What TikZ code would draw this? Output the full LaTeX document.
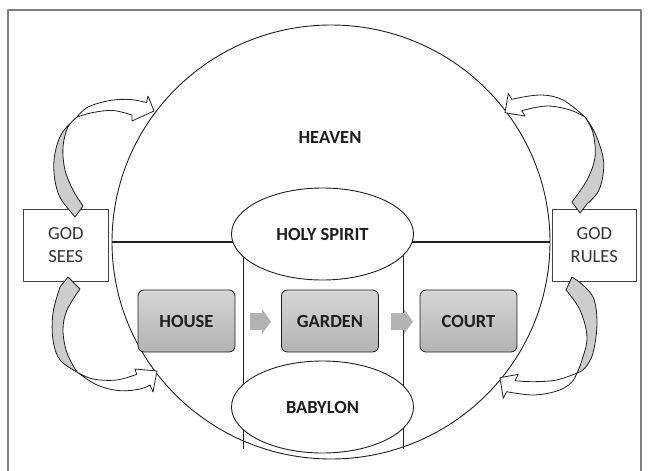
\documentclass[tikz,border=0pt]{standalone}
\usepackage{fontspec}
\setmainfont{Carlito}
\usetikzlibrary{shapes.geometric,calc}
\definecolor{ink}{HTML}{1E1E1E}
\definecolor{bandgray}{HTML}{CDCDCD}
\definecolor{flowgray}{HTML}{B3B3B3}
\begin{document}
\begin{tikzpicture}[x=1pt,y=-1pt,line join=round,
  frame/.style={draw=black!50,line width=1.2pt},
  bigell/.style={draw=ink,line width=0.9pt,ellipse,minimum width=438pt,minimum height=434pt,inner sep=0pt},
  ovl/.style={draw=ink,fill=white,line width=0.9pt,ellipse,minimum width=182pt,minimum height=92pt,inner sep=0pt,font=\fontsize{18.5}{20}\selectfont\bfseries,text=ink},
  lbl/.style={font=\fontsize{18.5}{20}\selectfont\bfseries,text=ink,inner sep=0pt},
  stage/.style={draw=ink,line width=0.8pt,rounded corners=6pt,top color=black!16,bottom color=black!30,minimum width=97pt,minimum height=62pt,inner sep=0pt,font=\fontsize{18.5}{20}\selectfont\bfseries,text=ink},
  godbox/.style={draw=black!75,line width=0.8pt,fill=white,minimum width=84.5pt,minimum height=72pt,inner sep=0pt,align=center,font=\fontsize{18.5}{23}\selectfont,text=black!80},
  divider/.style={draw=ink,line width=1.3pt},
  pillar/.style={draw=ink,line width=1pt},
  gband/.style={draw=ink,fill=bandgray,line width=0.8pt},
  wband/.style={draw=ink,fill=white,line width=0.8pt},
  flow/.style={fill=flowgray},
  sm/.style={smooth,tension=0.6}]
\useasboundingbox (0,0) rectangle (648,471);
% frame
\coordinate (fbl) at (8,471);
\coordinate (ftr) at (641,10);
\draw[frame] (fbl) |- (ftr) -- (ftr |- fbl);
% big ellipse
\node[bigell] (big) at (331,242) {};
\node[lbl] (heaven) at (330,137) {HEAVEN};
% dividing lines
\coordinate (vl1) at (243,449);
\coordinate (vl2) at (403,449);
\draw[divider] (big.west) -- (big.east);
\draw[pillar] (vl1 |- 0,234) -- (vl1);
\draw[pillar] (vl2 |- 0,234) -- (vl2);
% ovals
\node[ovl] (hs) at (322.5,234) {HOLY SPIRIT};
\node[ovl] (bab) at (322.5,407) {BABYLON};
% stages
\node[stage] (house) at (186.5,321) {HOUSE};
\node[stage] (garden) at (330,321) {GARDEN};
\node[stage] (court) at (468.5,321) {COURT};
\fill[flow] (250,313) -- (262,313) -- (262,309) -- (271,321.5) -- (262,334) -- (262,330) -- (250,330) -- cycle;
\fill[flow] (391,313) -- (404,313) -- (404,309) -- (413,321.5) -- (404,334) -- (404,330) -- (391,330) -- cycle;
% god boxes
\node[godbox] (sees) at (65.75,245) {GOD\\SEES};
\node[godbox] (rules) at (594.25,245) {GOD\\RULES};
% curved arrows: left top
\filldraw[gband] plot[sm] coordinates {(77,117) (62,133) (55,153) (54,173) (58,193) (65,205)} -- (75,217) -- (83,206) -- plot[sm] coordinates {(83,206) (73,190) (65,170) (63,147) (68,127) (77,117)} -- cycle;
\filldraw[wband] plot[sm] coordinates {(77,117) (88,107) (110,100.5) (130,99.5) (146.5,102.5)} -- (148,96) -- (154,111) -- (132,121) -- (132,115) -- plot[sm] coordinates {(132,115) (113,110.5) (93,112.5) (77,117)} -- cycle;
% left bottom
\filldraw[gband] plot[sm] coordinates {(77,372) (60,360) (53,340) (53,313) (60,287)} -- (68,277) -- (80,289) -- plot[sm] coordinates {(80,289) (67,310) (63,330) (67,353) (77,372)} -- cycle;
\filldraw[wband] plot[sm] coordinates {(77,372) (97,385) (120,390.7) (140,389) (150,385)} -- (153,392) -- (157,371) -- (135,369) -- (136.7,374.3) -- plot[sm] coordinates {(136.7,374.3) (116.7,380) (93,379) (77,372)} -- cycle;
% right top
\filldraw[gband] plot[sm] coordinates {(585,117) (595,133) (603,157) (603,175) (598,192) (587,204)} -- (580,213) -- (572,202) -- plot[sm] coordinates {(572,202) (587,180) (595,157) (593,133) (585,117)} -- cycle;
\filldraw[wband] plot[sm] coordinates {(585,117) (563,100) (540,95) (511.7,99.3)} -- (508.3,93.3) -- (505,112.7) -- (525,116) -- (521.7,110.7) -- plot[sm] coordinates {(521.7,110.7) (546.7,106) (570,110) (585,117)} -- cycle;
% right bottom
\filldraw[gband] plot[sm] coordinates {(577,373) (585,368) (593,353) (597,323) (593,297) (578,281)} -- (572,277) -- (566,290) -- plot[sm] coordinates {(566,290) (580,310) (587,337) (582,360) (577,373)} -- cycle;
\filldraw[wband] plot[sm] coordinates {(577,373) (556.7,380) (533.3,381.7) (515,380.7)} -- (518.3,374.3) -- (500,377.7) -- (503.3,398.3) -- (506.7,391.7) -- plot[sm] coordinates {(506.7,391.7) (533,395) (557,391) (571,383) (577,373)} -- cycle;
\end{tikzpicture}
\end{document}
